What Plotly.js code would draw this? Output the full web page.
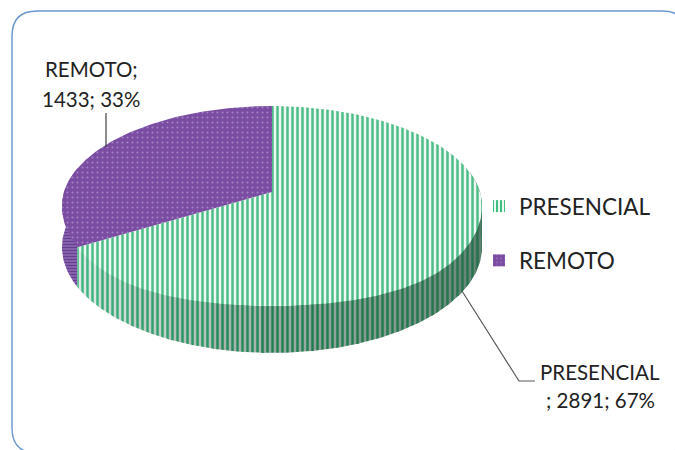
<!DOCTYPE html>
<html><head><meta charset="utf-8">
<script src="https://cdn.plot.ly/plotly-3.0.1.min.js"></script>
<style>html,body{margin:0;padding:0;background:#fff}#c{width:675px;height:450px}</style>
</head><body><div id="c"></div>
<script>
const categories = ['PRESENCIAL', 'REMOTO'];
const values = [2891, 1433];
const labelFirstLines = ['PRESENCIAL', 'REMOTO;'];
const sliceFg = ['#4dbd87', '#a486c4'];
const sliceBg = ['#eef7f2', '#7a4ca2'];
const sliceShape = ['|', '.'];
const sliceSize = [5, 5];
const sliceSolidity = [0.5, 0.13];
const FONT = 'Lato, "Open Sans", sans-serif';
const TEXT = '#222222';

// perspective projection of the disc, on pixel-ranged axes
const cx = 272, cy = 192, A = 208, B = 98, K = 0.14, D = 40.4, BULGE = 5;
const deg = Math.PI / 180;
function project(a) {
  const u = Math.sin(a * deg), v = Math.cos(a * deg), w = 1 + K * v;
  return [cx + A * u / w, cy - B * v / w, w, v];
}
// top rim of the disc sits slightly lower along its front half
function rimY(p, a) {
  const s = Math.sin(2 * a * deg);
  return p[1] + (p[3] < 0 ? BULGE * s * s : 0);
}
function arc(a0, a1) {
  const n = Math.max(2, Math.ceil(Math.abs(a1 - a0))), pts = [];
  for (let i = 0; i <= n; i++) pts.push(a0 + (a1 - a0) * i / n);
  return pts;
}
const total = values.reduce((s, v) => s + v, 0);
const split = 360 * values[0] / total;
const spans = [[0, split], [split, 360]];

function hex(c) { return [1, 3, 5].map(i => parseInt(c.substr(i, 2), 16)); }
function mix(a, b, t) {
  const p = hex(a), q = hex(b);
  return 'rgb(' + p.map((x, i) => Math.round(x + (q[i] - x) * t)).join(',') + ')';
}
function wallTrace(a0, a1, fg, bg, shape, size, sol) {
  const angs = arc(a0, a1);
  const t = angs.map(project);
  const xs = t.map(p => p[0]).concat(t.map(p => p[0]).reverse());
  const ys = t.map(p => p[1]).concat(t.map(p => p[1] + D / p[2]).reverse());
  return {
    type: 'scatter', mode: 'lines', x: xs, y: ys, fill: 'toself', line: {width: 0},
    fillcolor: bg, fillpattern: {shape, fgcolor: fg, bgcolor: bg, size, solidity: sol},
    showlegend: false, hoverinfo: 'skip'
  };
}
const traces = [];
// purple side wall
traces.push(wallTrace(split, 285, '#6a3b93', '#9174b4', '-', 3, 0.55));
// green side wall bands: front-left bright -> right dark
const bands = 14, wallEnd = 78;
for (let i = 0; i < bands; i++) {
  const a0 = split - (split - wallEnd) * i / bands;
  const a1 = split - (split - wallEnd) * (i + 1) / bands - 1;
  const f = i / (bands - 1);
  const fg = f < 0.4 ? mix('#3fb583', '#1f7f50', f / 0.4) : mix('#1f7f50', '#2b6b4c', (f - 0.4) / 0.6);
  const bg = f < 0.4 ? mix('#dce8e1', '#97a69e', f / 0.4) : mix('#97a69e', '#4c7360', (f - 0.4) / 0.6);
  traces.push(wallTrace(a0, Math.max(a1, wallEnd), fg, bg, '|', 5, 0.5));
}
// top face slices
spans.forEach((s, i) => {
  const angs = arc(s[0], s[1]);
  const t = angs.map(project);
  traces.push({
    type: 'scatter', mode: 'lines', name: categories[i],
    x: [cx].concat(t.map(p => p[0]), [cx]),
    y: [cy].concat(t.map((p, j) => rimY(p, angs[j])), [cy]),
    fill: 'toself', line: {width: 0}, fillcolor: sliceBg[i],
    fillpattern: {shape: sliceShape[i], fgcolor: sliceFg[i], bgcolor: sliceBg[i], size: sliceSize[i], solidity: sliceSolidity[i]},
    showlegend: false, hoverinfo: 'text', text: categories[i]
  });
});
// leader lines
traces.push({type: 'scatter', mode: 'lines', x: [462, 519, 535], y: [291, 381, 381],
  line: {color: '#595959', width: 1.2}, showlegend: false, hoverinfo: 'skip'});
traces.push({type: 'scatter', mode: 'lines', x: [106, 106], y: [113, 147],
  line: {color: '#404040', width: 1.2}, showlegend: false, hoverinfo: 'skip'});
// legend entries
categories.forEach((c, i) => traces.push({
  type: 'bar', name: c, x: [null], y: [null], legendgroup: c, hoverinfo: 'skip',
  marker: {color: i === 0 ? '#ffffff' : sliceBg[i], line: {width: 0},
    pattern: {shape: sliceShape[i], fgcolor: i === 0 ? '#3fbf7f' : sliceFg[i], bgcolor: i === 0 ? '#ffffff' : sliceBg[i], size: sliceSize[i], solidity: i === 0 ? 0.55 : sliceSolidity[i]}}
}));
const pct = values.map(v => Math.round(100 * v / total));
function note(text, x, y) {
  return {text, x, y, xref: 'x', yref: 'y', showarrow: false, xanchor: 'center', yanchor: 'middle',
    font: {family: FONT, size: 20.5, color: TEXT}};
}
const annotations = [
  note(labelFirstLines[1], 91, 69),
  note(values[1] + '; ' + pct[1] + '%', 91, 99),
  note(labelFirstLines[0], 600, 372),
  note('; ' + values[0] + '; ' + pct[0] + '%', 600, 400)
];
const layout = {
  width: 675, height: 450, margin: {l: 0, r: 0, t: 0, b: 0},
  paper_bgcolor: '#ffffff', plot_bgcolor: 'rgba(0,0,0,0)',
  xaxis: {range: [0, 675], visible: false, fixedrange: true},
  yaxis: {range: [450, 0], visible: false, fixedrange: true},
  showlegend: true,
  legend: {x: 479 / 675, y: 1 - 185 / 450, xanchor: 'left', yanchor: 'top', traceorder: 'grouped',
    tracegroupgap: 22, font: {family: FONT, size: 22.5, color: TEXT}, bgcolor: 'rgba(0,0,0,0)'},
  annotations,
  shapes: [{
    type: 'path', xref: 'x', yref: 'y', layer: 'below',
    path: 'M 12 36 Q 12 11 37 11 L 662 11 Q 687 11 687 36 L 687 428 Q 687 453 662 453 L 37 453 Q 12 453 12 428 Z',
    line: {color: '#6b98d0', width: 1.5}, fillcolor: 'rgba(0,0,0,0)'
  }]
};
Plotly.newPlot('c', traces, layout, {staticPlot: true, displayModeBar: false});
</script></body></html>
